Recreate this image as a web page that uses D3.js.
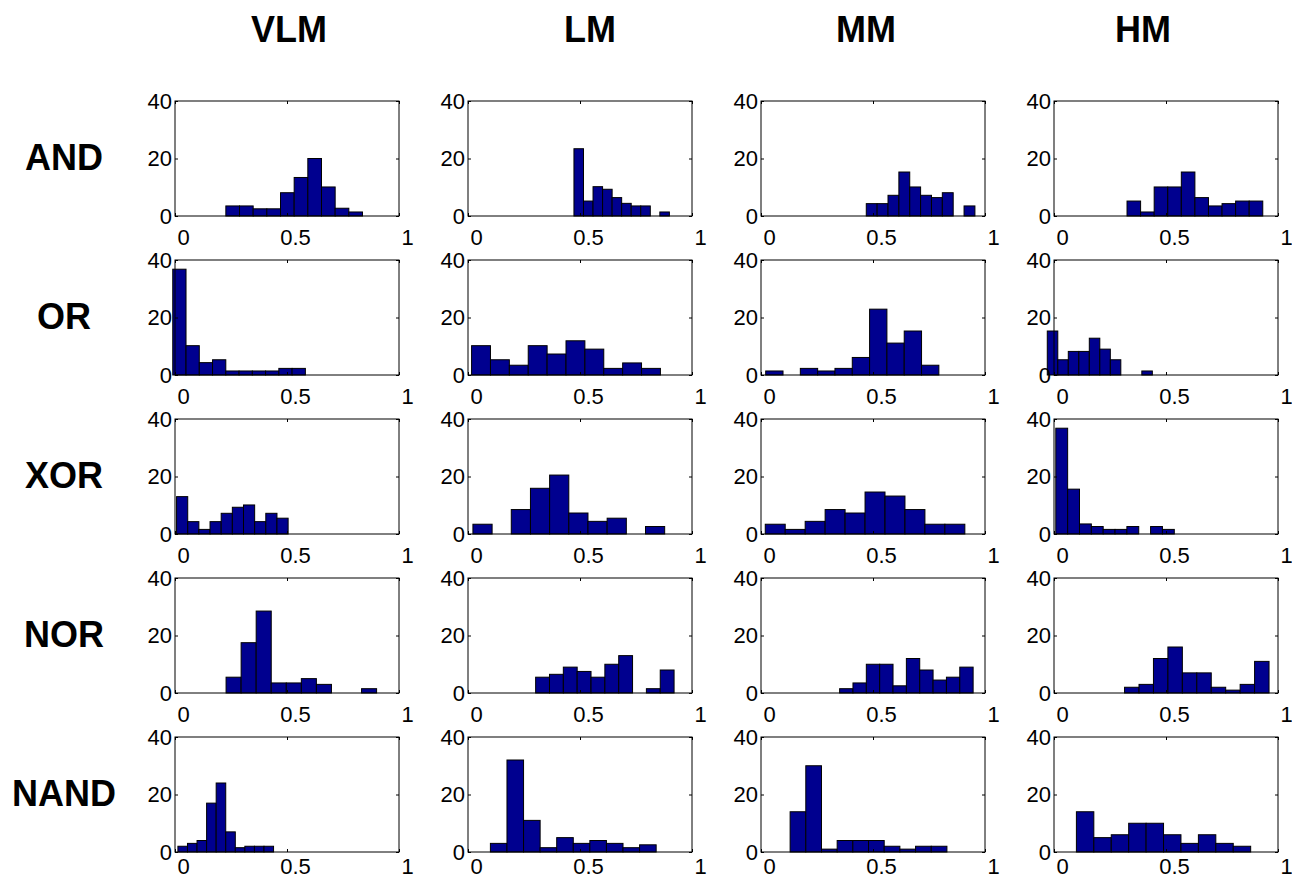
<!DOCTYPE html>
<html>
<head>
<meta charset="utf-8">
<script src="https://cdnjs.cloudflare.com/ajax/libs/d3/7.8.5/d3.min.js"></script>
<style>
  body { margin: 0; background: #fff; }
  svg text { font-family: "Liberation Sans", Arial, sans-serif; fill: #000; }
</style>
</head>
<body>
<div id="chart"></div>
<script>
// row and column names
var gates = ["AND", "OR", "XOR", "NOR", "NAND"];
var levels = ["VLM", "LM", "MM", "HM"];

// tick labels
var xTicks = [0, 0.5, 1];
var yTicks = [0, 20, 40];

// first and last bin edge of each histogram (rows = gates, cols = levels)
var binLo = [
    [0.227, 0.473, 0.470, 0.326],
    [-0.010, 0.016, 0.021, -0.030],
    [0.007, 0.022, 0.019, 0.008],
    [0.228, 0.302, 0.351, 0.315],
    [0.013, 0.100, 0.130, 0.100]
];
var binHi = [
    [0.837, 0.899, 0.955, 0.932],
    [0.582, 0.859, 0.794, 0.439],
    [0.505, 0.878, 0.910, 0.537],
    [0.900, 0.920, 0.947, 0.960],
    [0.440, 0.840, 0.830, 0.878]
];

// bin counts, 10 bins per histogram
var counts = [
    [ // AND
        [3.5, 3.5, 2.5, 2.5, 8.1, 13.4, 20, 10.1, 2.7, 1.4],
        [23.4, 5.2, 10.2, 9.3, 6.4, 4.4, 3.5, 3.5, 0, 1.4],
        [4.3, 4.3, 7.2, 15.3, 10.1, 7.2, 6.4, 8.1, 0, 3.5],
        [5.2, 1.4, 10.1, 10.1, 15.3, 6.4, 3.5, 4.3, 5.2, 5.2]
    ],
    [ // OR
        [36.8, 10.2, 4.3, 5.3, 1.4, 1.4, 1.4, 1.4, 2.3, 2.3],
        [10.2, 5.3, 3.4, 10.2, 7.3, 11.9, 9.0, 2.3, 4.2, 2.3],
        [1.4, 0, 2.3, 1.4, 2.3, 6.1, 22.9, 11.1, 15.3, 3.4],
        [15.3, 5.3, 8.2, 8.2, 12.8, 9.0, 5.3, 0, 0, 1.4]
    ],
    [ // XOR
        [13, 4.3, 1.6, 4.3, 7.2, 9.3, 10.1, 4.3, 7.2, 5.5],
        [3.4, 0, 8.5, 15.9, 20.5, 7.3, 4.4, 5.5, 0, 2.6],
        [3.4, 1.6, 4.4, 8.5, 7.3, 14.6, 13.2, 8.5, 3.4, 3.4],
        [36.8, 15.6, 3.5, 2.6, 1.6, 1.6, 2.6, 0, 2.6, 1.6]
    ],
    [ // NOR
        [5.5, 17.5, 28.5, 3.5, 3.5, 5, 3, 0, 0, 1.5],
        [5.5, 6.5, 9, 7.5, 5.5, 10, 13, 0, 1.5, 8],
        [1.5, 3.5, 10, 10, 2.5, 12, 8, 4.5, 5.5, 9],
        [2, 3, 12, 16, 7, 7, 2, 1, 3, 11]
    ],
    [ // NAND
        [2, 3, 4, 17, 24, 7, 1.5, 2, 2, 2],
        [3, 32, 11, 1.5, 5, 3, 4, 3, 1.5, 2.5],
        [14, 30, 1, 4, 4, 4, 2, 1, 2, 2],
        [14, 5, 6, 10, 10, 6, 3, 6, 3, 2]
    ]
];

var width = 1292, height = 884;
var panelW = 224, panelH = 115;
var left0 = 175, top0 = 101;
var stepX = 293, stepY = 159;
var titleX = [289, 590, 866, 1143];
var barColor = "#00008f";

var svg = d3.select("#chart").append("svg")
    .attr("width", width)
    .attr("height", height);

svg.append("rect").attr("width", width).attr("height", height).attr("fill", "#fff");

// column titles
svg.selectAll("text.coltitle")
    .data(levels)
    .enter()
    .append("text")
    .attr("class", "coltitle")
    .attr("x", function(d, i) { return titleX[i]; })
    .attr("y", 42)
    .attr("text-anchor", "middle")
    .style("font-size", "36px")
    .style("font-weight", "bold")
    .text(function(d) { return d; });

// row labels
svg.selectAll("text.rowtitle")
    .data(gates)
    .enter()
    .append("text")
    .attr("class", "rowtitle")
    .attr("x", 64)
    .attr("y", function(d, i) { return top0 + i * stepY + 69; })
    .attr("text-anchor", "middle")
    .style("font-size", "36px")
    .style("font-weight", "bold")
    .text(function(d) { return d; });

var x = d3.scaleLinear().domain([0, 1]).range([0, panelW]);
var y = d3.scaleLinear().domain([0, 40]).range([panelH, 0]);

function drawPanel(r, c) {
    var g = svg.append("g")
        .attr("transform", "translate(" + (left0 + c * stepX) + "," + (top0 + r * stepY) + ")");

    var lo = binLo[r][c], hi = binHi[r][c];
    var vals = counts[r][c];
    var bw = (hi - lo) / vals.length;
    var bins = vals.map(function(v, i) { return {x0: lo + i * bw, x1: lo + (i + 1) * bw, n: v}; });

    // bars
    g.selectAll("rect.bar")
        .data(bins.filter(function(d) { return d.n > 0; }))
        .enter()
        .append("rect")
        .attr("class", "bar")
        .attr("x", function(d) { return x(d.x0); })
        .attr("width", function(d) { return x(d.x1) - x(d.x0); })
        .attr("y", function(d) { return y(d.n); })
        .attr("height", function(d) { return y(0) - y(d.n); })
        .attr("fill", barColor)
        .attr("stroke", "#000")
        .attr("stroke-width", 1);

    // bottom row labels sit a bit tighter (figure edge)
    var pad = r === gates.length - 1 ? 6 : 13;

    // axes, ticks point inward like matlab
    var xb = g.append("g").attr("transform", "translate(0," + panelH + ")")
        .call(d3.axisBottom(x).tickValues(xTicks).tickSizeInner(-3).tickSizeOuter(0).tickPadding(pad)
            .tickFormat(function(d) { return d === 0.5 ? "0.5" : d; }));
    xb.selectAll("text").attr("dx", 8).style("font-size", "22px");

    var yl = g.append("g")
        .call(d3.axisLeft(y).tickValues(yTicks).tickSizeInner(-3).tickSizeOuter(0).tickPadding(3));
    yl.selectAll("text").style("font-size", "22px");

    g.append("g")
        .call(d3.axisTop(x).tickValues(xTicks).tickSizeInner(-3).tickSizeOuter(0).tickFormat(""));
    g.append("g").attr("transform", "translate(" + panelW + ",0)")
        .call(d3.axisRight(y).tickValues(yTicks).tickSizeInner(-3).tickSizeOuter(0).tickFormat(""));

    g.selectAll(".domain").remove();
    g.selectAll(".tick line").attr("stroke", "#000");

    // box
    g.append("rect")
        .attr("x", 0).attr("y", 0)
        .attr("width", panelW).attr("height", panelH)
        .attr("fill", "none")
        .attr("stroke", "#000")
        .attr("stroke-width", 1);
}

gates.forEach(function(gname, r) {
    levels.forEach(function(lname, c) {
        drawPanel(r, c);
    });
});
</script>
</body>
</html>
